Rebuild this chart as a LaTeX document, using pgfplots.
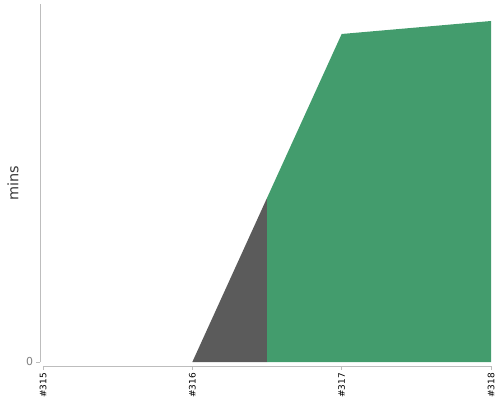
\documentclass[border=0pt]{standalone}
\usepackage{fontspec}
\setmainfont{DejaVu Sans}
\usepackage{pgfplots}
\pgfplotsset{compat=1.18}
\definecolor{areagreen}{HTML}{439C6D}
\definecolor{areagray}{HTML}{5B5B5B}
\definecolor{axisgray}{HTML}{BDBDBD}
\definecolor{labelgray}{HTML}{3A3A3A}
\begin{document}
\begin{tikzpicture}
\begin{axis}[
  name=ax,
  scale only axis,
  width=448bp, height=358bp,
  xmin=0, xmax=3, ymin=0, ymax=358,
  axis x line=bottom, axis y line=left,
  axis line style={-, axisgray, line width=0.8bp},
  axis x line shift=4bp,
  axis y line shift=3bp,
  xtick={0,1,2,3},
  xticklabels={\#315,\#316,\#317,\#318},
  ytick={0},
  tick align=outside,
  major tick length=3.5bp,
  tick style={axisgray, line width=0.8bp},
  xticklabel style={rotate=90, anchor=east, font=\fontsize{9}{10}\selectfont, text=black},
  yticklabel style={font=\fontsize{11}{12}\selectfont, text=gray},
  /pgf/number format/assume math mode=true,
  ylabel={mins},
  ylabel style={at={(rel axis cs:0,0.5)}, anchor=center, yshift=30bp,
    font=\fontsize{14.5}{16}\selectfont, text=labelgray},
  clip=false,
]
\addplot[fill=areagray, draw=none] coordinates {(1,0) (1.5,164)} \closedcycle;
\addplot[fill=areagreen, draw=none] coordinates {(1.5,164) (2,328) (3,341)} \closedcycle;
\end{axis}
\pgfresetboundingbox
\path[use as bounding box] ([xshift=-43bp,yshift=-38bp]ax.south west) rectangle ([xshift=9bp,yshift=4bp]ax.north east);
\end{tikzpicture}
\end{document}
